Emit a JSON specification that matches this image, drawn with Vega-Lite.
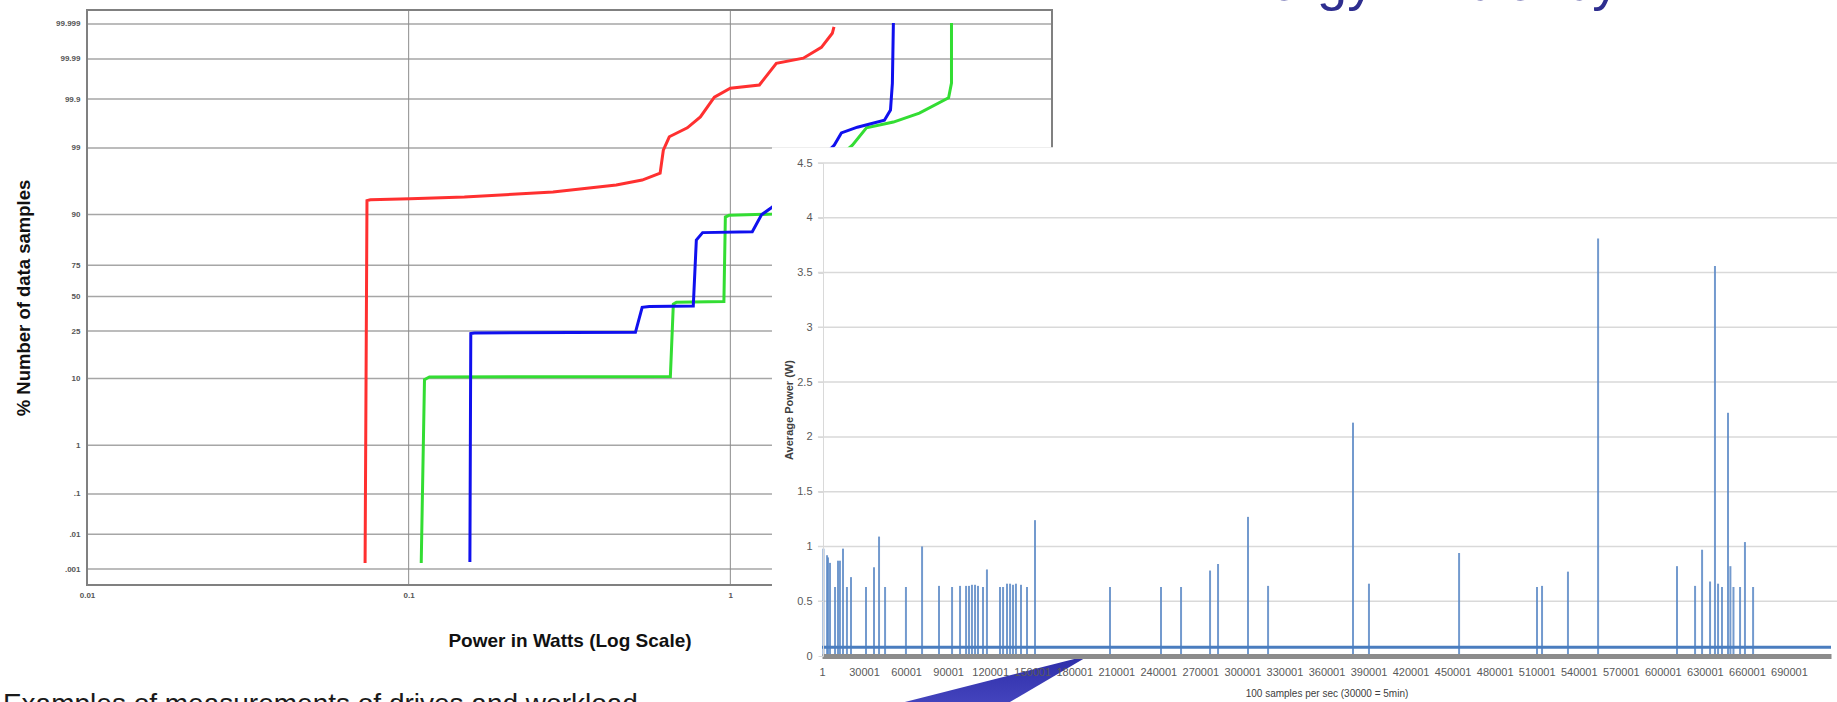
{
  "$schema": "https://vega.github.io/schema/vega-lite/v6.json",
  "width": 1837,
  "height": 702,
  "padding": 0,
  "autosize": {"type": "none"},
  "background": "white",
  "config": {"view": {"stroke": null}, "font": "Liberation Sans"},
  "data": {"values": [{}]},
  "datasets": {
    "leftTicks": [
      {"probit": 4.265}, {"probit": 3.719}, {"probit": 3.09}, {"probit": 2.326},
      {"probit": 1.282}, {"probit": 0.49}, {"probit": 0}, {"probit": -0.54},
      {"probit": -1.282}, {"probit": -2.326}, {"probit": -3.09}, {"probit": -3.719},
      {"probit": -4.265}
    ],
    "leftV": [{"power": 0.1}, {"power": 1}],
    "curves": [
      {"series": "red", "power": 0.0732, "probit": -4.17},
      {"series": "red", "power": 0.0742, "probit": 1.5},
      {"series": "red", "power": 0.076, "probit": 1.515},
      {"series": "red", "power": 0.101, "probit": 1.53},
      {"series": "red", "power": 0.149, "probit": 1.557},
      {"series": "red", "power": 0.281, "probit": 1.635},
      {"series": "red", "power": 0.442, "probit": 1.745},
      {"series": "red", "power": 0.532, "probit": 1.823},
      {"series": "red", "power": 0.605, "probit": 1.93},
      {"series": "red", "power": 0.619, "probit": 2.29},
      {"series": "red", "power": 0.646, "probit": 2.5},
      {"series": "red", "power": 0.735, "probit": 2.64},
      {"series": "red", "power": 0.807, "probit": 2.81},
      {"series": "red", "power": 0.892, "probit": 3.12},
      {"series": "red", "power": 1.0, "probit": 3.26},
      {"series": "red", "power": 1.231, "probit": 3.31},
      {"series": "red", "power": 1.39, "probit": 3.65},
      {"series": "red", "power": 1.686, "probit": 3.73},
      {"series": "red", "power": 1.919, "probit": 3.9},
      {"series": "red", "power": 2.075, "probit": 4.12},
      {"series": "red", "power": 2.1, "probit": 4.22},
      {"series": "green", "power": 0.1094, "probit": -4.17},
      {"series": "green", "power": 0.112, "probit": -1.3},
      {"series": "green", "power": 0.116, "probit": -1.26},
      {"series": "green", "power": 0.651, "probit": -1.25},
      {"series": "green", "power": 0.665, "probit": -0.12},
      {"series": "green", "power": 0.68, "probit": -0.09},
      {"series": "green", "power": 0.955, "probit": -0.08},
      {"series": "green", "power": 0.965, "probit": 1.244},
      {"series": "green", "power": 0.99, "probit": 1.27},
      {"series": "green", "power": 1.351, "probit": 1.29},
      {"series": "green", "power": 2.396, "probit": 2.37},
      {"series": "green", "power": 2.649, "probit": 2.64},
      {"series": "green", "power": 3.213, "probit": 2.73},
      {"series": "green", "power": 3.87, "probit": 2.87},
      {"series": "green", "power": 4.77, "probit": 3.11},
      {"series": "green", "power": 4.87, "probit": 3.34},
      {"series": "green", "power": 4.87, "probit": 4.28},
      {"series": "blue", "power": 0.155, "probit": -4.155},
      {"series": "blue", "power": 0.156, "probit": -0.58},
      {"series": "blue", "power": 0.16, "probit": -0.571},
      {"series": "blue", "power": 0.507, "probit": -0.56},
      {"series": "blue", "power": 0.532, "probit": -0.17},
      {"series": "blue", "power": 0.56, "probit": -0.155},
      {"series": "blue", "power": 0.767, "probit": -0.149},
      {"series": "blue", "power": 0.784, "probit": 0.884},
      {"series": "blue", "power": 0.82, "probit": 1.0},
      {"series": "blue", "power": 1.17, "probit": 1.015},
      {"series": "blue", "power": 1.25, "probit": 1.28},
      {"series": "blue", "power": 1.351, "probit": 1.4},
      {"series": "blue", "power": 2.105, "probit": 2.37},
      {"series": "blue", "power": 2.214, "probit": 2.56},
      {"series": "blue", "power": 2.483, "probit": 2.65},
      {"series": "blue", "power": 3.013, "probit": 2.76},
      {"series": "blue", "power": 3.147, "probit": 2.92},
      {"series": "blue", "power": 3.19, "probit": 3.34},
      {"series": "blue", "power": 3.213, "probit": 4.28}
    ],
    "rightTicks": [
      {"power": 0.5}, {"power": 1}, {"power": 1.5}, {"power": 2}, {"power": 2.5},
      {"power": 3}, {"power": 3.5}, {"power": 4}, {"power": 4.5}
    ],
    "bars": [
      {"sample": 1000, "power": 0.98}, {"sample": 3600, "power": 0.92},
      {"sample": 4300, "power": 0.9}, {"sample": 5700, "power": 0.85},
      {"sample": 9300, "power": 0.63}, {"sample": 11400, "power": 0.87},
      {"sample": 12800, "power": 0.87}, {"sample": 15000, "power": 0.98},
      {"sample": 17800, "power": 0.63}, {"sample": 20700, "power": 0.72},
      {"sample": 31400, "power": 0.63}, {"sample": 37100, "power": 0.81},
      {"sample": 40700, "power": 1.09}, {"sample": 45000, "power": 0.63},
      {"sample": 59900, "power": 0.63}, {"sample": 71400, "power": 1.0},
      {"sample": 83500, "power": 0.64}, {"sample": 92800, "power": 0.63},
      {"sample": 98500, "power": 0.64}, {"sample": 102800, "power": 0.64},
      {"sample": 104900, "power": 0.64}, {"sample": 107000, "power": 0.65},
      {"sample": 109200, "power": 0.65}, {"sample": 111300, "power": 0.64},
      {"sample": 114900, "power": 0.63}, {"sample": 117700, "power": 0.79},
      {"sample": 127000, "power": 0.63}, {"sample": 129200, "power": 0.63},
      {"sample": 132000, "power": 0.66}, {"sample": 134200, "power": 0.66},
      {"sample": 136300, "power": 0.65}, {"sample": 138400, "power": 0.66},
      {"sample": 142000, "power": 0.65}, {"sample": 146300, "power": 0.63},
      {"sample": 152000, "power": 1.24}, {"sample": 205500, "power": 0.63},
      {"sample": 241900, "power": 0.63}, {"sample": 256200, "power": 0.63},
      {"sample": 276900, "power": 0.78}, {"sample": 282600, "power": 0.84},
      {"sample": 304000, "power": 1.27}, {"sample": 318300, "power": 0.64},
      {"sample": 378900, "power": 2.13}, {"sample": 390300, "power": 0.66},
      {"sample": 454600, "power": 0.94}, {"sample": 510200, "power": 0.63},
      {"sample": 513800, "power": 0.64}, {"sample": 532300, "power": 0.77},
      {"sample": 553800, "power": 3.81}, {"sample": 610100, "power": 0.82},
      {"sample": 623000, "power": 0.64}, {"sample": 628000, "power": 0.97},
      {"sample": 633700, "power": 0.68}, {"sample": 637200, "power": 3.56},
      {"sample": 639400, "power": 0.66}, {"sample": 642200, "power": 0.63},
      {"sample": 646500, "power": 2.22}, {"sample": 648200, "power": 0.82},
      {"sample": 650400, "power": 0.63}, {"sample": 655100, "power": 0.63},
      {"sample": 658600, "power": 1.04}, {"sample": 664400, "power": 0.63}
    ],
    "baseline": [{"sample": 1, "power": 0.08}, {"sample": 720000, "power": 0.08}],
    "arrow": [
      {"sample": 19980, "top": -0.547, "bottom": -1.277},
      {"sample": 191250, "top": 0.009, "bottom": 0.009}
    ]
  },
  "layer": [
    {
      "data": {"name": "leftTicks"},
      "mark": {"type": "rule", "color": "#a6a6a6", "strokeWidth": 1.5},
      "encoding": {
        "y": {
          "field": "probit", "type": "quantitative",
          "scale": {"domain": [-4.515, 4.484], "range": [585, 10], "nice": false, "zero": false},
          "axis": {
            "orient": "left", "offset": -87,
            "values": [4.265, 3.719, 3.09, 2.326, 1.282, 0.49, 0, -0.54, -1.282, -2.326, -3.09, -3.719, -4.265],
            "labelExpr": "datum.value > 4 ? '99.999' : datum.value > 3.5 ? '99.99' : datum.value > 2.8 ? '99.9' : datum.value > 2 ? '99' : datum.value > 1 ? '90' : datum.value > 0.3 ? '75' : datum.value > -0.3 ? '50' : datum.value > -1 ? '25' : datum.value > -2 ? '10' : datum.value > -2.8 ? '1' : datum.value > -3.5 ? '.1' : datum.value > -4 ? '.01' : '.001'",
            "labelOverlap": false,
            "title": "% Number of data samples",
            "titleX": -64, "titleAngle": 270, "titleBaseline": "middle", "titleAlign": "center",
            "titleFontSize": 18.5, "titleFontWeight": "bold", "titleColor": "#111111",
            "domain": false, "ticks": false, "grid": false,
            "labelFontSize": 8, "labelFontWeight": "bold", "labelColor": "#555555", "labelPadding": 7
          }
        },
        "x": {"datum": 0.01, "type": "quantitative", "scale": {"type": "log", "domain": [0.01, 10], "range": [87, 1052], "nice": false}, "axis": null},
        "x2": {"datum": 10}
      }
    },
    {
      "data": {"name": "leftV"},
      "mark": {"type": "rule", "color": "#8c8c8c", "strokeWidth": 1},
      "encoding": {
        "x": {
          "field": "power", "type": "quantitative",
          "scale": {"type": "log", "domain": [0.01, 10], "range": [87, 1052], "nice": false},
          "axis": {
            "orient": "bottom", "offset": -117,
            "values": [0.01, 0.1, 1, 10], "format": "~g",
            "labelFlush": false, "labelOverlap": false,
            "title": "Power in Watts (Log Scale)",
            "titleY": 55, "titleBaseline": "middle",
            "titleFontSize": 19, "titleFontWeight": "bold", "titleColor": "#111111",
            "domain": false, "ticks": false, "grid": false,
            "labelFontSize": 8, "labelFontWeight": "bold", "labelColor": "#555555", "labelPadding": 6
          }
        },
        "y": {"datum": -4.515, "type": "quantitative", "scale": {"domain": [-4.515, 4.484], "range": [585, 10], "nice": false, "zero": false}, "axis": null},
        "y2": {"datum": 4.484}
      }
    },
    {
      "mark": {"type": "rect", "fill": "transparent", "stroke": "#808080", "strokeWidth": 2},
      "encoding": {
        "x": {"datum": 0.01, "type": "quantitative", "scale": {"type": "log", "domain": [0.01, 10], "range": [87, 1052], "nice": false}, "axis": null},
        "x2": {"datum": 10},
        "y": {"datum": -4.515, "type": "quantitative", "scale": {"domain": [-4.515, 4.484], "range": [585, 10], "nice": false, "zero": false}, "axis": null},
        "y2": {"datum": 4.484}
      }
    },
    {
      "data": {"name": "curves"},
      "mark": {"type": "line", "strokeWidth": 3},
      "encoding": {
        "x": {"field": "power", "type": "quantitative", "scale": {"type": "log", "domain": [0.01, 10], "range": [87, 1052], "nice": false}, "axis": null},
        "y": {"field": "probit", "type": "quantitative", "scale": {"domain": [-4.515, 4.484], "range": [585, 10], "nice": false, "zero": false}, "axis": null},
        "color": {"field": "series", "type": "nominal", "scale": {"domain": ["red", "green", "blue"], "range": ["#ff3030", "#33dd33", "#1010ee"]}, "legend": null},
        "order": {"field": "probit", "type": "quantitative"}
      }
    },
    {
      "mark": {"type": "text", "text": "Examples of measurements of drives and workload", "align": "left", "baseline": "alphabetic", "fontSize": 28, "color": "#1a1a1a"},
      "encoding": {
        "x": {"datum": 0.005479, "type": "quantitative", "scale": {"type": "log", "domain": [0.01, 10], "range": [87, 1052], "nice": false}, "axis": null},
        "y": {"datum": -6.52, "type": "quantitative", "scale": {"domain": [-4.515, 4.484], "range": [585, 10], "nice": false, "zero": false}, "axis": null}
      }
    },
    {
      "mark": {"type": "rect", "color": "white"},
      "encoding": {
        "x": {"datum": -35700, "type": "quantitative", "scale": {"domain": [0, 720000], "range": [822, 1831], "nice": false, "zero": false}, "axis": null},
        "x2": {"datum": 724300},
        "y": {"datum": -0.42, "type": "quantitative", "scale": {"domain": [0, 4.5], "range": [656, 163], "nice": false, "zero": false}, "axis": null},
        "y2": {"datum": 4.644}
      }
    },
    {
      "data": {"name": "rightTicks"},
      "mark": {"type": "rule", "color": "#d9d9d9", "strokeWidth": 1.5},
      "encoding": {
        "y": {
          "field": "power", "type": "quantitative",
          "scale": {"domain": [0, 4.5], "range": [656, 163], "nice": false, "zero": false},
          "axis": {
            "orient": "left", "offset": -823,
            "values": [0, 0.5, 1, 1.5, 2, 2.5, 3, 3.5, 4, 4.5], "format": "~g",
            "labelOverlap": false, "labelFlush": false,
            "title": "Average Power (W)",
            "titleX": -34, "titleAngle": 270, "titleBaseline": "middle", "titleAlign": "center",
            "titleFontSize": 11, "titleFontWeight": "bold", "titleColor": "#404040",
            "domain": true, "domainColor": "#d9d9d9", "domainWidth": 1,
            "ticks": true, "tickSize": 5, "tickColor": "#d9d9d9",
            "grid": false,
            "labelFontSize": 11, "labelColor": "#595959", "labelPadding": 6,
            "zindex": 1
          }
        },
        "x": {"datum": -2900, "type": "quantitative", "scale": {"domain": [0, 720000], "range": [822, 1831], "nice": false, "zero": false}, "axis": null},
        "x2": {"datum": 724300}
      }
    },
    {
      "data": {"name": "bars"},
      "mark": {"type": "rule", "color": "#5b88c6", "strokeWidth": 2, "opacity": 0.85},
      "encoding": {
        "x": {
          "field": "sample", "type": "quantitative",
          "scale": {"domain": [0, 720000], "range": [822, 1831], "nice": false, "zero": false},
          "axis": {
            "orient": "bottom", "offset": -46,
            "values": [1, 30001, 60001, 90001, 120001, 150001, 180001, 210001, 240001, 270001, 300001, 330001, 360001, 390001, 420001, 450001, 480001, 510001, 540001, 570001, 600001, 630001, 660001, 690001],
            "format": "d", "labelFlush": false, "labelOverlap": false,
            "title": "100 samples per sec (30000 = 5min)",
            "titleY": 37, "titleBaseline": "middle",
            "titleFontSize": 10, "titleFontWeight": "normal", "titleColor": "#404040",
            "domain": true, "domainColor": "#8c8c8c", "domainWidth": 5,
            "ticks": false, "grid": false,
            "labelFontSize": 11, "labelColor": "#595959", "labelPadding": 10,
            "zindex": 1
          }
        },
        "y": {"field": "power", "type": "quantitative", "scale": {"domain": [0, 4.5], "range": [656, 163], "nice": false, "zero": false}, "axis": null},
        "y2": {"datum": 0}
      }
    },
    {
      "data": {"name": "baseline"},
      "mark": {"type": "line", "color": "#4a7dbf", "strokeWidth": 3},
      "encoding": {
        "x": {"field": "sample", "type": "quantitative", "scale": {"domain": [0, 720000], "range": [822, 1831], "nice": false, "zero": false}, "axis": null},
        "y": {"field": "power", "type": "quantitative", "scale": {"domain": [0, 4.5], "range": [656, 163], "nice": false, "zero": false}, "axis": null}
      }
    },
    {
      "mark": {"type": "text", "text": "Energy Efficiency", "align": "left", "baseline": "alphabetic", "fontSize": 54, "color": "#2e2e8f"},
      "encoding": {
        "x": {"datum": 271900, "type": "quantitative", "scale": {"domain": [0, 720000], "range": [822, 1831], "nice": false, "zero": false}, "axis": null},
        "y": {"datum": 5.99, "type": "quantitative", "scale": {"domain": [0, 4.5], "range": [656, 163], "nice": false, "zero": false}, "axis": null}
      }
    },
    {
      "data": {"name": "arrow"},
      "mark": {
        "type": "area",
        "color": {"gradient": "linear", "x1": 0, "y1": 0, "x2": 0, "y2": 1, "stops": [{"offset": 0, "color": "#2d2da8"}, {"offset": 1, "color": "#7070e6"}]}
      },
      "encoding": {
        "x": {"field": "sample", "type": "quantitative", "scale": {"domain": [0, 720000], "range": [822, 1831], "nice": false, "zero": false}, "axis": null},
        "y": {"field": "top", "type": "quantitative", "scale": {"domain": [0, 4.5], "range": [656, 163], "nice": false, "zero": false}, "axis": null},
        "y2": {"field": "bottom"}
      }
    }
  ],
  "resolve": {"scale": {"x": "independent", "y": "independent"}, "axis": {"x": "independent", "y": "independent"}}
}
